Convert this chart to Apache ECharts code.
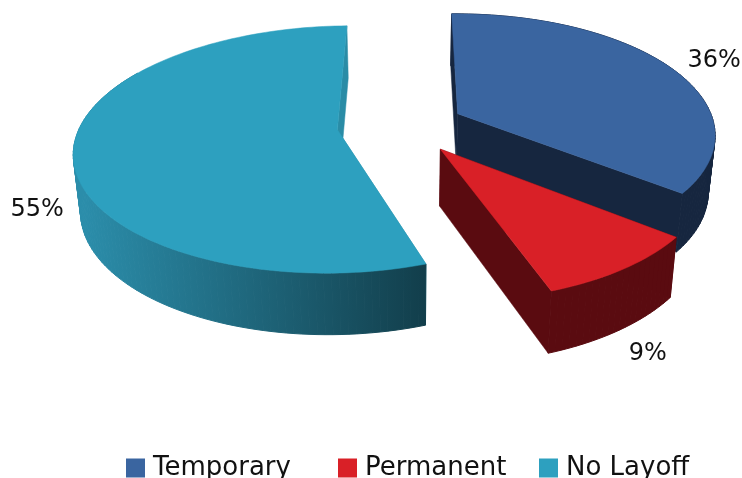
<!DOCTYPE html>
<html>
<head>
<meta charset="utf-8">
<style>html,body{margin:0;padding:0;background:#fff}#chart{width:742px;height:478px}</style>
<script src="https://cdn.jsdelivr.net/npm/echarts@6/dist/echarts.min.js"></script>
</head>
<body>
<div id="chart"></div>
<script>
// Layoff shares, in percent
const categories = ['Temporary', 'Permanent', 'No Layoff'];
const shares = [36, 9, 55];
const tickLabels = ['36%', '9%', '55%'];

const topColors = ['#3A65A0', '#D92027', '#2DA0BF'];
const wallColors = ['#16263F', '#5A0B10', '#2A8CA6'];
const tealWallStops = ['#2B8DAA', '#123E4B'];

// Perspective camera for the exploded pie; bow and skew bend the depth lines slightly
const cam = { vx: 404, cy: 125, H: 750, D: 1670, Rx: 257, Ry: 265, turn: -1, depth: 56, shrink: 0.022, bow: 4.1e-5, skew: -0.0061 };
const explode = [60, 63, 67];
const labelRadius = [1.24, 1.135, 1.162];
const labelDrop = [0.1, 1.06, 0.965];
const legendLeft = [126, 338, 539];
// Beyond this angle the rim faces away from the viewer
const rimLimit = 300;

const toRad = d => d * Math.PI / 180;

// Angular span of each slice, clockwise from twelve o'clock
const spans = [];
shares.reduce((start, v) => {
  const end = start + v / 100 * 360;
  spans.push([start, end]);
  return end;
}, 0);

function project(i, angle, r, z) {
  const m = toRad((spans[i][0] + spans[i][1]) / 2);
  const a = toRad(angle + cam.turn);
  const X = explode[i] * Math.sin(m) + cam.Rx * r * Math.sin(a);
  const Y = -explode[i] * Math.cos(m) - cam.Ry * r * Math.cos(a);
  const s = cam.D / (cam.D - Y);
  return [
    cam.vx + X * s * (1 - z * cam.shrink) + cam.bow * Y * Y + cam.skew * Y,
    cam.cy + cam.H * (s - 1) + z * cam.depth * (1 + 0.5 * (s - 1))
  ];
}

function arc(i, z) {
  const pts = [];
  const [a0, a1] = spans[i];
  const n = Math.ceil((a1 - a0) / 1.5);
  for (let k = 0; k <= n; k++) pts.push(project(i, a0 + (a1 - a0) * k / n, 1, z));
  return pts;
}

function renderSlice(i) {
  const [a0, a1] = spans[i];
  const top = arc(i, 0);
  const bottom = arc(i, 1);
  const apexTop = project(i, a0, 0, 0);
  const apexBottom = project(i, a0, 0, 1);
  const wallFill = i === 2
    ? new echarts.graphic.LinearGradient(project(2, 270, 1, 1)[0], 0, project(2, a0, 1, 1)[0], 0,
        [{ offset: 0, color: tealWallStops[0] }, { offset: 1, color: tealWallStops[1] }], true)
    : wallColors[i];
  const poly = (points, fill, lineWidth) => ({
    type: 'polygon', shape: { points }, silent: true,
    style: { fill, stroke: fill, lineWidth: lineWidth || 0.5 }
  });
  // The rim is swept quad by quad so its silhouette stays straight at the far sides
  const rim = [];
  for (let k = 0; k < top.length - 1; k++) {
    const angle = a0 + (a1 - a0) * k / (top.length - 1);
    if (angle > rimLimit) break;
    rim.push(poly([top[k], top[k + 1], bottom[k + 1], bottom[k]], wallFill, 1));
  }
  const mid = (a0 + a1) / 2;
  const lp = project(i, mid, labelRadius[i], labelDrop[i]);
  return {
    type: 'group',
    children: [
      poly([top[0], bottom[0], apexBottom, apexTop], wallColors[i]),
      poly([top[top.length - 1], bottom[bottom.length - 1], apexBottom, apexTop], wallColors[i]),
      ...rim,
      poly(top.concat([apexTop]), topColors[i]),
      {
        type: 'text', silent: true, x: lp[0], y: lp[1],
        style: {
          text: tickLabels[i], align: 'center', verticalAlign: 'middle',
          fontFamily: 'DejaVu Sans', fontSize: 24, fill: '#111'
        }
      }
    ]
  };
}

const drawOrder = [2, 0, 1];
const chart = echarts.init(document.getElementById('chart'), null, { renderer: 'canvas' });
chart.setOption({
  animation: false,
  backgroundColor: '#fff',
  legend: categories.map((name, i) => ({
    data: [name],
    left: legendLeft[i],
    top: 455,
    itemWidth: 19,
    itemHeight: 19,
    itemGap: 0,
    padding: 0,
    icon: 'rect',
    selectedMode: false,
    textStyle: { fontFamily: 'DejaVu Sans', fontSize: 26, color: '#111', padding: [0, 0, 0, 3] }
  })),
  series: drawOrder.map(i => ({
    type: 'custom',
    name: categories[i],
    coordinateSystem: 'none',
    itemStyle: { color: topColors[i] },
    data: [shares[i]],
    renderItem: () => renderSlice(i)
  }))
});
</script>
</body>
</html>
